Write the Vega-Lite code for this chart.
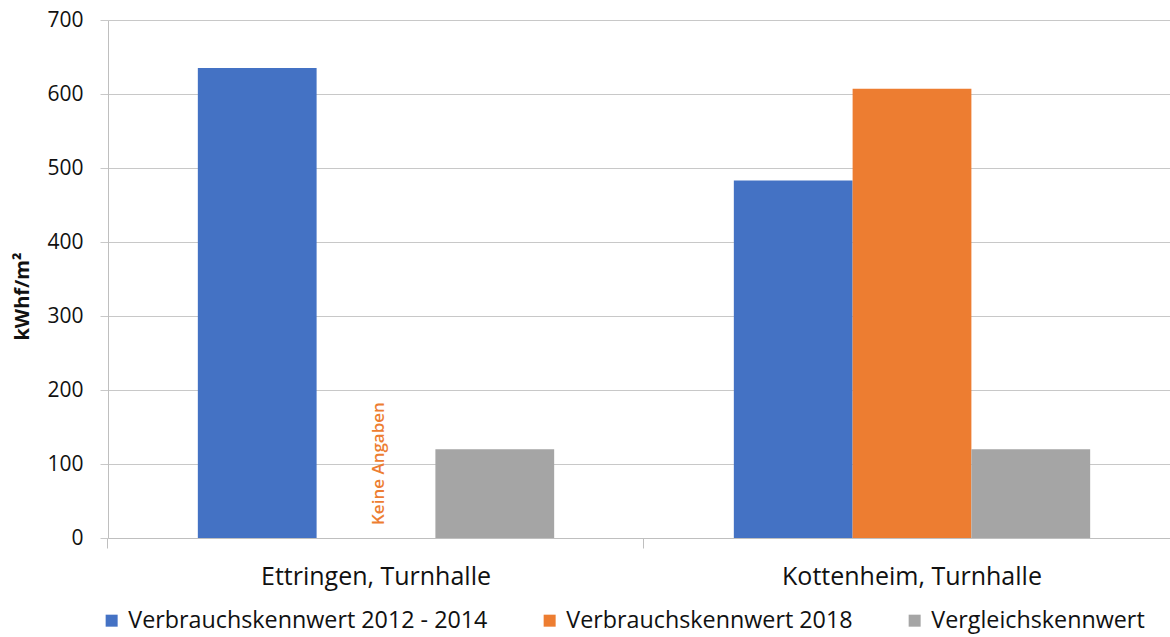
{
  "$schema": "https://vega.github.io/schema/vega-lite/v6.json",
  "width": 1072,
  "height": 518,
  "autosize": {"type": "none"},
  "padding": {"left": 108, "top": 20, "right": 0, "bottom": 99},
  "background": "white",
  "config": {
    "view": {"stroke": null},
    "font": "Open Sans"
  },
  "data": {
    "values": [
      {"standort": "Ettringen, Turnhalle", "serie": "Verbrauchskennwert 2012 - 2014", "wert": 635, "hinweis": null},
      {"standort": "Ettringen, Turnhalle", "serie": "Verbrauchskennwert 2018", "wert": null, "hinweis": "Keine Angaben"},
      {"standort": "Ettringen, Turnhalle", "serie": "Vergleichskennwert", "wert": 120, "hinweis": null},
      {"standort": "Kottenheim, Turnhalle", "serie": "Verbrauchskennwert 2012 - 2014", "wert": 483, "hinweis": null},
      {"standort": "Kottenheim, Turnhalle", "serie": "Verbrauchskennwert 2018", "wert": 607, "hinweis": null},
      {"standort": "Kottenheim, Turnhalle", "serie": "Vergleichskennwert", "wert": 120, "hinweis": null}
    ]
  },
  "encoding": {
    "x": {
      "field": "standort",
      "type": "nominal",
      "sort": null,
      "scale": {"paddingInner": 0.3352, "paddingOuter": 0.1676},
      "axis": {
        "title": null,
        "labelAngle": 0,
        "labelFontSize": 25,
        "labelColor": "#111111",
        "labelPadding": 16,
        "labelLimit": 600,
        "bandPosition": -0.2528,
        "tickSize": 10,
        "tickColor": "#BFBFBF",
        "domainColor": "#BFBFBF",
        "grid": false
      }
    },
    "xOffset": {
      "field": "serie",
      "type": "nominal",
      "scale": {
        "domain": ["Verbrauchskennwert 2012 - 2014", "Verbrauchskennwert 2018", "Vergleichskennwert"],
        "paddingInner": 0,
        "paddingOuter": 0
      }
    }
  },
  "layer": [
    {
      "mark": {"type": "bar"},
      "encoding": {
        "y": {
          "field": "wert",
          "type": "quantitative",
          "scale": {"domain": [0, 700], "nice": false},
          "axis": {
            "title": "kWhf/m²",
            "titleFontSize": 20,
            "titleFontWeight": "bold",
            "titleColor": "#111111",
            "titlePadding": 14,
            "titleY": 276,
            "values": [0, 100, 200, 300, 400, 500, 600, 700],
            "labelFontSize": 21,
            "labelColor": "#111111",
            "labelPadding": 17,
            "tickSize": 8,
            "tickColor": "#C8C8C8",
            "domainColor": "#BFBFBF",
            "gridColor": "#C8C8C8"
          }
        },
        "color": {
          "field": "serie",
          "type": "nominal",
          "scale": {
            "domain": ["Verbrauchskennwert 2012 - 2014", "Verbrauchskennwert 2018", "Vergleichskennwert"],
            "range": ["#4472C4", "#ED7D31", "#A5A5A5"]
          },
          "legend": {
            "title": null,
            "orient": "none",
            "legendX": -8,
            "legendY": 589,
            "direction": "horizontal",
            "columns": 3,
            "symbolType": "square",
            "symbolSize": 144,
            "symbolStrokeWidth": 0,
            "labelFontSize": 23.3,
            "labelColor": "#111111",
            "labelOffset": 5,
            "labelLimit": 500,
            "columnPadding": 50
          }
        }
      }
    },
    {
      "transform": [{"filter": "datum.hinweis != null"}],
      "mark": {
        "type": "text",
        "angle": 270,
        "align": "left",
        "baseline": "middle",
        "dx": 13,
        "dy": 3,
        "color": "#ED7D31",
        "fontSize": 17,
        "fontWeight": 600
      },
      "encoding": {
        "y": {"datum": 0, "type": "quantitative"},
        "text": {"field": "hinweis"}
      }
    }
  ]
}
